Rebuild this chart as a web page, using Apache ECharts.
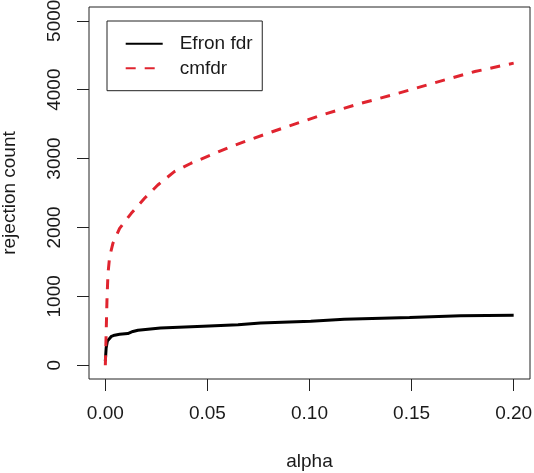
<!DOCTYPE html>
<html>
<head>
<meta charset="utf-8">
<script src="https://cdn.jsdelivr.net/npm/echarts@6/dist/echarts.min.js"></script>
<style>
html,body{margin:0;padding:0;background:#fff;}
#chart{width:534px;height:473px;}
</style>
</head>
<body>
<div id="chart"></div>
<script>
// Data
const efronAlpha = [0, 0.0004, 0.001, 0.003, 0.0045, 0.007, 0.011, 0.0135, 0.016, 0.027, 0.048, 0.065, 0.076, 0.1006, 0.117, 0.149, 0.174, 0.2];
const efronCount = [60, 250, 350, 420, 436, 450, 460, 490, 508, 541, 566, 586, 613, 640, 668, 693, 718, 725];

const cmAlpha = [0, 0.0004, 0.0008, 0.0013, 0.0021, 0.0037, 0.007, 0.0127, 0.0192, 0.0257, 0.0338, 0.042, 0.0518, 0.0615, 0.0713, 0.0867, 0.1063, 0.1242, 0.1437, 0.1616, 0.181, 0.2];
const cmCount = [0, 460, 945, 1333, 1574, 1769, 1987, 2205, 2423, 2616, 2810, 2932, 3052, 3173, 3280, 3440, 3634, 3794, 3949, 4103, 4263, 4385];

const xTicks = [0, 0.05, 0.10, 0.15, 0.20];
const yTicks = [0, 1000, 2000, 3000, 4000, 5000];

const seriesNames = ['Efron fdr', 'cmfdr'];

const FONT = "'Liberation Sans', Arial, Helvetica, sans-serif";
const INK = '#1a1a1a';

const chart = echarts.init(document.getElementById('chart'), null, {renderer: 'canvas'});
chart.setOption({
  animation: false,
  backgroundColor: '#ffffff',
  textStyle: {fontFamily: FONT},
  grid: {left: 89, right: 4, top: 7, bottom: 94, containLabel: false, outerBoundsMode: 'none',
         show: true, borderColor: '#222', borderWidth: 1, backgroundColor: 'transparent'},
  legend: {
    left: 107, top: 21,
    orient: 'vertical',
    data: seriesNames,
    itemWidth: 37, itemHeight: 14, itemGap: 4.6,
    itemStyle: {opacity: 0},
    padding: [12.7, 9.7, 12.4, 17.7],
    borderColor: '#222', borderWidth: 1, borderRadius: 0,
    backgroundColor: '#fff',
    textStyle: {fontFamily: FONT, fontSize: 19, color: INK, lineHeight: 20, padding: [0, 0, 0, 12]}
  },
  xAxis: {
    type: 'value', min: -0.008, max: 0.208,
    axisLine: {show: false, onZero: false},
    splitLine: {show: false},
    axisTick: {show: true, customValues: xTicks, length: 12, lineStyle: {color: '#222', width: 1}},
    axisLabel: {customValues: xTicks, formatter: v => v.toFixed(2), fontSize: 19, color: INK, fontFamily: FONT, margin: 25},
    name: 'alpha', nameLocation: 'middle', nameGap: 73,
    nameTextStyle: {fontSize: 19, color: INK, fontFamily: FONT}
  },
  yAxis: {
    type: 'value', min: -200, max: 5200,
    axisLine: {show: false, onZero: false},
    splitLine: {show: false},
    axisTick: {show: true, customValues: yTicks, length: 12, lineStyle: {color: '#222', width: 1}},
    axisLabel: {customValues: yTicks, formatter: v => String(v), rotate: 90, fontSize: 19, color: INK, fontFamily: FONT, margin: 25},
    name: 'rejection count', nameLocation: 'middle', nameGap: 70, nameRotate: 90,
    nameTextStyle: {fontSize: 19, color: INK, fontFamily: FONT}
  },
  series: [
    {
      name: seriesNames[0], type: 'line', symbol: 'none',
      data: efronAlpha.map((a, i) => [a, efronCount[i]]),
      lineStyle: {color: '#000', width: 3},
      itemStyle: {color: '#000'}
    },
    {
      name: seriesNames[1], type: 'line', symbol: 'none',
      data: cmAlpha.map((a, i) => [a, cmCount[i]]),
      lineStyle: {color: '#e0242f', width: 3, type: [10, 9]},
      itemStyle: {color: '#e0242f'}
    }
  ]
});
</script>
</body>
</html>
